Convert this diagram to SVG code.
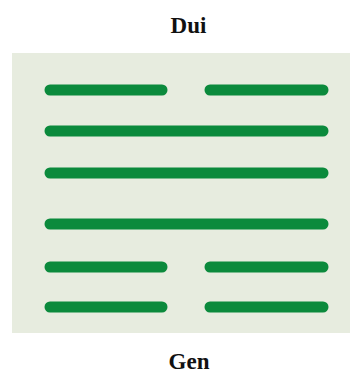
<svg xmlns="http://www.w3.org/2000/svg" width="360" height="374" viewBox="0 0 360 374">
<style>
.lbl{font-family:"Liberation Serif","Times New Roman",serif;font-weight:bold;font-size:23px;fill:#111;text-anchor:middle}
.bar{stroke:#0b8a3c;stroke-width:11;stroke-linecap:round;fill:none}
</style>
<rect width="360" height="374" fill="#ffffff"/>
<g id="panel"><rect x="12" y="53" width="338" height="280" fill="#e7ecdf"/></g>
<g id="title-top"><text class="lbl" x="188.5" y="33">Dui</text></g>
<g id="lines">
<g id="line1"><line class="bar" x1="50" y1="90" x2="162" y2="90"/><line class="bar" x1="210" y1="90" x2="323" y2="90"/></g>
<g id="line2"><line class="bar" x1="50" y1="131" x2="323" y2="131"/></g>
<g id="line3"><line class="bar" x1="50" y1="173" x2="323" y2="173"/></g>
<g id="line4"><line class="bar" x1="50" y1="224" x2="323" y2="224"/></g>
<g id="line5"><line class="bar" x1="50" y1="267" x2="162" y2="267"/><line class="bar" x1="210" y1="267" x2="323" y2="267"/></g>
<g id="line6"><line class="bar" x1="50" y1="307" x2="162" y2="307"/><line class="bar" x1="210" y1="307" x2="323" y2="307"/></g>
</g>
<g id="title-bottom"><text class="lbl" x="189" y="369">Gen</text></g>
</svg>
